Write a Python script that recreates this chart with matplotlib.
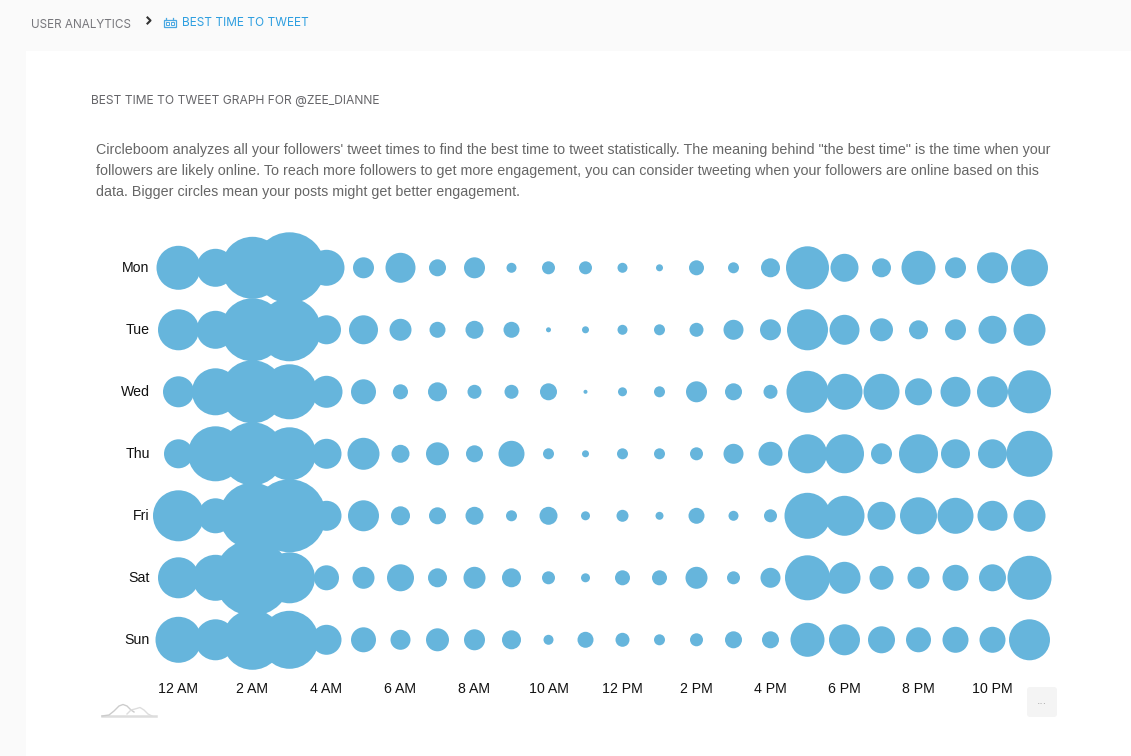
import matplotlib
matplotlib.use('Agg')
import matplotlib.pyplot as plt
from matplotlib.patches import FancyBboxPatch, Rectangle


W = 1131
H = 756

DAYS = ['Mon', 'Tue', 'Wed', 'Thu', 'Fri', 'Sat', 'Sun']
HOUR_TICKS = [0, 2, 4, 6, 8, 10, 12, 14, 16, 18, 20, 22]
HOUR_LABELS = ['12 AM', '2 AM', '4 AM', '6 AM', '8 AM', '10 AM', '12 PM',
               '2 PM', '4 PM', '6 PM', '8 PM', '10 PM']

# bubble radius in pixels, one value per hour
MON = [22, 19, 31, 35.5, 18, 10.5, 15, 8.5, 10.5, 5, 6.5, 6.5, 5, 3.5, 7.5, 5.5,
       9.5, 21.5, 14, 9.5, 17, 10.5, 15.5, 18.5]
TUE = [20.5, 19, 31.5, 31.5, 14.5, 14.5, 11, 8, 9, 8, 2.5, 3.5, 5, 5.5, 7, 10,
       10.5, 20.5, 15, 11.5, 9.5, 10.5, 14, 16]
WED = [15.5, 23.5, 31.5, 27.5, 16, 12.5, 7.5, 9.5, 7, 7, 8.5, 2, 4.5, 5.5, 10.5,
       8.5, 7, 21, 18, 18, 13.5, 15, 15.5, 21.5]
THU = [14.5, 27.5, 31.5, 26.5, 15, 16, 9, 11.5, 8.5, 13, 5.5, 3.5, 5.5, 5.5,
       6.5, 10, 12, 19.5, 19.5, 10.5, 19.5, 14.5, 14.5, 23]
FRI = [25.5, 17.5, 33, 36.5, 15, 15.5, 9.5, 8.5, 9, 5.5, 9, 4.5, 6, 4, 8, 5,
       6.5, 23, 20, 14, 18.5, 18, 15, 16]
SAT = [20.5, 23, 38, 25.5, 12.5, 11, 13.5, 9.5, 11, 9.5, 6.5, 4.5, 7.5, 7.5, 11,
       6.5, 10, 22.5, 16, 12, 11, 13, 13.5, 22]
SUN = [23, 20.5, 30, 29, 15, 12.5, 10, 11.5, 10.5, 9.5, 5, 8, 7, 5.5, 6.5, 8.5,
       8.5, 17, 15.5, 13.5, 12.5, 13, 13, 20.5]
RADII = [MON, TUE, WED, THU, FRI, SAT, SUN]

BUBBLE = '#66b5dc'
UI_FONT = ['Inter', 'DejaVu Sans']
BODY = ("Circleboom analyzes all your followers' tweet times to find the best "
        "time to tweet statistically. The meaning behind \"the best time\" is "
        "the time when your",
        "followers are likely online. To reach more followers to get more "
        "engagement, you can consider tweeting when your followers are online "
        "based on this",
        "data. Bigger circles mean your posts might get better engagement.")

fig = plt.figure(figsize=(W / 100.0, H / 100.0), dpi=100, facecolor='#fafafa')

# page panel and all the text around the chart, in pixel coordinates
bg = fig.add_axes([0, 0, 1, 1])
bg.set_xlim(0, W)
bg.set_ylim(H, 0)
bg.axis('off')
bg.add_patch(Rectangle((26, 51), W - 26, H - 51, fc='white', ec='none'))

bg.text(31, 24.5, 'USER ANALYTICS', fontsize=8.45, color='#77777c', va='center',
        family=UI_FONT)
bg.plot([147.5, 150.5, 147.5], [17.5, 20.5, 23.5], color='#333333', lw=1.5)
bg.text(182.5, 22.5, 'BEST TIME TO TWEET', fontsize=8.55, color='#2f9fe0',
        va='center', family=UI_FONT)
bg.add_patch(Rectangle((163.5, 20), 12.5, 6.5, fc='none', ec='#4aa8e2', lw=0.9))
bg.add_patch(Rectangle((165.5, 22), 3, 2.5, fc='none', ec='#4aa8e2', lw=0.7))
bg.add_patch(Rectangle((170.5, 22), 3, 2.5, fc='none', ec='#4aa8e2', lw=0.7))
bg.plot([166, 166], [17.5, 20], color='#4aa8e2', lw=0.9)
bg.plot([173, 173], [17.5, 20], color='#4aa8e2', lw=0.9)
bg.text(91, 100.8, 'BEST TIME TO TWEET GRAPH FOR @ZEE_DIANNE', fontsize=8.7,
        color='#66666a', va='center', family=UI_FONT)

for i, line in enumerate(BODY):
    bg.text(96, 149.8 + i * 21.0, line, fontsize=10.24, color='#666666',
            va='center', family='Liberation Sans')

# small brush preview and the menu button under the chart
bg.plot([102, 156], [716, 716], color='#dddddd', lw=1.8)
bg.plot([102, 109, 114, 119, 123, 127, 131, 134],
        [716, 715, 711, 706, 704.5, 706, 710, 712],
        color='#cccccc', lw=1)
bg.plot([127, 131, 135, 140, 144, 148, 152],
        [714, 710, 709, 707.5, 710, 714, 716],
        color='#dddddd', lw=1)
bg.add_patch(FancyBboxPatch((1027, 687), 30, 30,
                            boxstyle='round,pad=0,rounding_size=3',
                            fc='#f4f4f4', ec='none'))
bg.text(1042, 701, '...', fontsize=7.5, color='#aaaaaa', ha='center',
        va='center')

# chart: hour 0 sits at x=178.5 px, hour 23 at x=1029.5 px, Mon y=267, Sun y=639
PX_PER_HOUR = 37.0
PX_PER_DAY = 62.0
MON_Y = 267.8
left, right = 100.0, 1100.0
top, bottom = 236.0, 670.0
ax = fig.add_axes([left / W, 1 - bottom / H, (right - left) / W,
                   (bottom - top) / H])
ax.patch.set_alpha(0)
ax.set_xlim((left - 178.5) / PX_PER_HOUR, (right - 178.5) / PX_PER_HOUR)
ax.set_ylim((bottom - MON_Y) / PX_PER_DAY, (top - MON_Y) / PX_PER_DAY)

for d, row in enumerate(RADII):
    hours = list(range(len(row)))
    # scatter size is diameter squared in points, 1 px = 0.72 pt at dpi 100
    sizes = [(2 * r * 0.72) ** 2 for r in row]
    ax.scatter(hours, [d] * len(row), s=sizes, c=BUBBLE, linewidths=0,
               clip_on=False, zorder=3)

for s in ax.spines.values():
    s.set_visible(False)
ax.set_xticks(HOUR_TICKS)
ax.set_xticklabels(HOUR_LABELS, fontsize=10.2, family='Liberation Sans',
                   color='#111111')
ax.set_yticks(range(len(DAYS)))
ax.set_yticklabels(DAYS, fontsize=10.2, family='Liberation Sans', color='#111111',
                   va='center')
ax.tick_params(axis='x', length=0, pad=8.5)
# labels sit inside the axes box, right edge at x=149.5 px
ax.tick_params(axis='y', length=0, pad=-35.8)

fig.savefig('out.png', dpi=100, facecolor=fig.get_facecolor())
